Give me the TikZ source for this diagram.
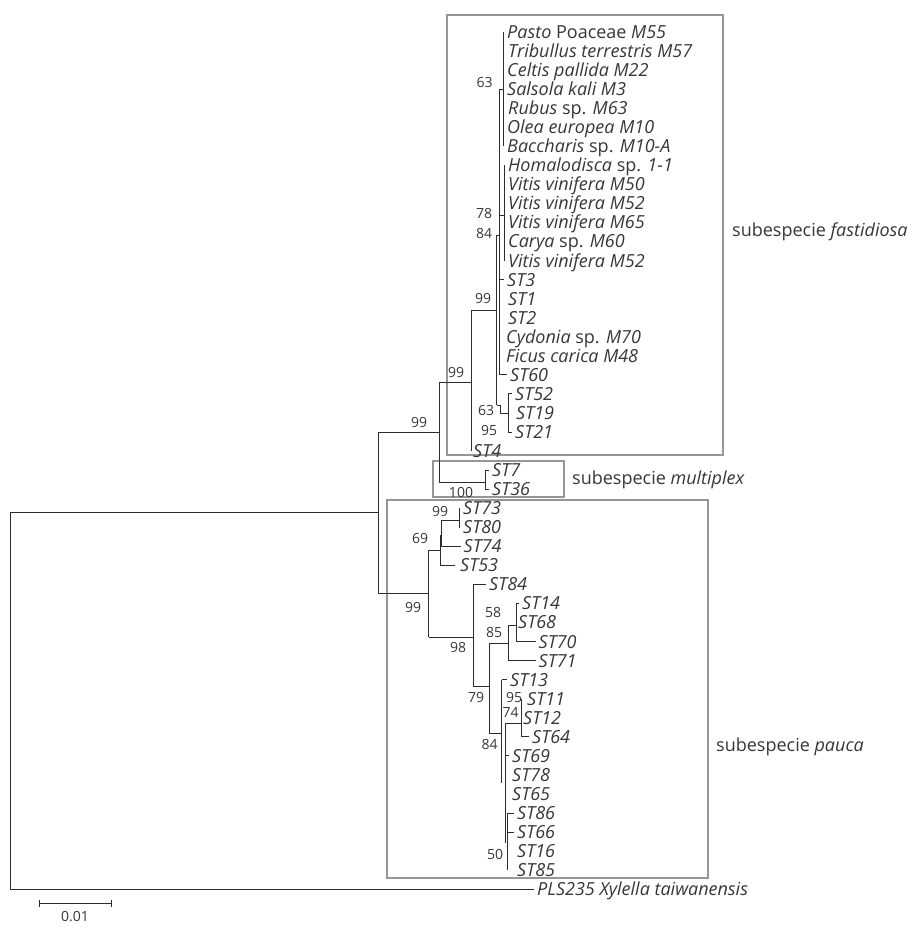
\documentclass[tikz,border=0pt]{standalone}
\usepackage{fontspec}
\setmainfont{Open Sans}
\definecolor{txt}{RGB}{55,55,55}
\definecolor{ln}{RGB}{45,45,45}
\definecolor{bx}{RGB}{150,150,150}
\newcommand{\up}[1]{{\upshape #1}}
\tikzset{
  br/.style={draw=ln, line width=1pt},
  leaf/.style={anchor=west, inner xsep=3pt, inner ysep=0pt, text height=15.3pt, text depth=2.5pt,
    font=\fontsize{18}{18}\selectfont\itshape, text=txt},
  bs/.style={font=\fontsize{14}{14}\selectfont, text=txt, inner sep=0pt},
  clade/.style={draw=bx, line width=1.5pt},
  sub/.style={anchor=base west, inner sep=0pt, font=\fontsize{18}{18}\selectfont, text=txt}
}
\begin{document}
\begin{tikzpicture}[x=1pt,y=-1pt]
\useasboundingbox (0,0) rectangle (919,931);

% clade boxes
\draw[clade] (447,15) rectangle (723,455);
\draw[clade] (433,461) rectangle (564,497);
\draw[clade] (387,500) rectangle (708,878);

% ---------- leaves: fastidiosa ----------
\node[leaf] (L1) at (504,32.00) {Pasto \up{Poaceae} M55};
\node[leaf] (L2) at (505,51.05) {Tribullus terrestris M57};
\node[leaf] (L3) at (504,70.10) {Celtis pallida M22};
\node[leaf] (L4) at (504,89.15) {Salsola kali M3};
\node[leaf] (L5) at (505,108.20) {Rubus \up{sp.} M63};
\node[leaf] (L6) at (504,127.25) {Olea europea M10};
\node[leaf] (L7) at (504,146.30) {Baccharis \up{sp.} M10-A};
\node[leaf] (L8) at (505,165.35) {Homalodisca \up{sp.} 1-1};
\node[leaf] (L9) at (505,184.40) {Vitis vinifera M50};
\node[leaf] (L10) at (505,203.45) {Vitis vinifera M52};
\node[leaf] (L11) at (505,222.50) {Vitis vinifera M65};
\node[leaf] (L12) at (505,241.55) {Carya \up{sp.} M60};
\node[leaf] (L13) at (505,260.60) {Vitis vinifera M52};
\node[leaf] (ST3) at (504,279.65) {ST3};
\node[leaf] (ST1) at (505,298.70) {ST1};
\node[leaf] (ST2) at (505,317.75) {ST2};
\node[leaf] (L17) at (503,336.80) {Cydonia \up{sp.} M70};
\node[leaf] (L18) at (503,355.85) {Ficus carica M48};
\node[leaf] (ST60) at (507,374.90) {ST60};
\node[leaf] (ST52) at (512,393.95) {ST52};
\node[leaf] (ST19) at (513,413.00) {ST19};
\node[leaf] (ST21) at (512,432.05) {ST21};
\node[leaf] (ST4) at (470,451.10) {ST4};
% multiplex
\node[leaf] (ST7) at (489,470.15) {ST7};
\node[leaf] (ST36) at (489,489.20) {ST36};
% pauca
\node[leaf] (ST73) at (460,508.25) {ST73};
\node[leaf] (ST80) at (460,527.30) {ST80};
\node[leaf] (ST74) at (460.5,546.35) {ST74};
\node[leaf] (ST53) at (457,565.40) {ST53};
\node[leaf] (ST84) at (486,584.45) {ST84};
\node[leaf] (ST14) at (519,603.50) {ST14};
\node[leaf] (ST68) at (515,622.55) {ST68};
\node[leaf] (ST70) at (535.5,641.60) {ST70};
\node[leaf] (ST71) at (535.5,660.65) {ST71};
\node[leaf] (ST13) at (507,679.70) {ST13};
\node[leaf] (ST11) at (524,698.75) {ST11};
\node[leaf] (ST12) at (520,717.80) {ST12};
\node[leaf] (ST64) at (529,736.85) {ST64};
\node[leaf] (ST69) at (509,755.90) {ST69};
\node[leaf] (ST78) at (509,774.95) {ST78};
\node[leaf] (ST65) at (509,794.00) {ST65};
\node[leaf] (ST86) at (514,813.05) {ST86};
\node[leaf] (ST66) at (514,832.10) {ST66};
\node[leaf] (ST16) at (514,851.15) {ST16};
\node[leaf] (ST85) at (514,870.20) {ST85};
% outgroup
\node[leaf] (OUT) at (534,889.25) {PLS235 Xylella taiwanensis};

% ---------- internal node coordinates ----------
\coordinate (R) at (10,512);
\coordinate (Rb) at (10,889.25);
\coordinate (IN) at (378,512);
\coordinate (INt) at (378,432);
\coordinate (INb) at (378,593);
\coordinate (FM) at (439,432);
\coordinate (FMb) at (439,482);
\coordinate (FMt) at (439,382);
\coordinate (FA) at (471.5,382);
\coordinate (FAt) at (471.5,310);
\coordinate (FAb) at (471.5,451.10);
\coordinate (F99) at (496.5,310);
\coordinate (F99t) at (496.5,235);
\coordinate (F99b) at (496.5,405);
\coordinate (FX) at (499,235);
\coordinate (FXt) at (499,89.15);
\coordinate (FXb) at (499,374.90);
\coordinate (G63) at (503,89.15);
\coordinate (G63t) at (503,32.00);
\coordinate (G63b) at (503,146.30);
\coordinate (G78s) at (499,215);
\coordinate (G78) at (504,215);
\coordinate (G78t) at (504,165.35);
\coordinate (G78b) at (504,260.60);
\coordinate (G95a) at (500,405);
\coordinate (G95b) at (500,413);
\coordinate (G95) at (508,413);
\coordinate (G95t) at (508,393.95);
\coordinate (G95u) at (508,432.05);
\coordinate (MU) at (485,482);
\coordinate (MUt) at (485,470.15);
\coordinate (MUb) at (485,489.20);
% pauca
\coordinate (PA) at (428.5,593);
\coordinate (PAt) at (428.5,550);
\coordinate (PAb) at (428.5,637);
\coordinate (P69) at (440,550);
\coordinate (P69t) at (440,535);
\coordinate (P69b) at (440,565.40);
\coordinate (P99b) at (441.5,546.35);
\coordinate (P99t) at (441.5,520);
\coordinate (P73) at (459,520);
\coordinate (P73t) at (459,508.25);
\coordinate (P73b) at (459,527.30);
\coordinate (P98) at (473.3,637);
\coordinate (P98t) at (473.3,584.45);
\coordinate (P98b) at (473.3,686);
\coordinate (P79) at (489.3,686);
\coordinate (P79t) at (489.3,643);
\coordinate (P79b) at (489.3,733);
\coordinate (P85) at (508.3,643);
\coordinate (P85t) at (508.3,625);
\coordinate (P85b) at (508.3,660.65);
\coordinate (P58) at (516,625);
\coordinate (P58t) at (516,603.50);
\coordinate (P58b) at (516,641.60);
\coordinate (P84) at (501.7,733);
\coordinate (P84t) at (501.7,679.70);
\coordinate (P84b) at (501.7,783);
\coordinate (P74) at (505,723);
\coordinate (P74b) at (505,843);
\coordinate (P95) at (521.7,723);
\coordinate (P95t) at (521.7,698.75);
\coordinate (P95b) at (521.7,736.85);
\coordinate (P50t) at (507.7,813.05);
\coordinate (P50b) at (507.7,870.20);
\coordinate (P50m) at (507.7,832.10);
\coordinate (P69s) at (505,755.90);

% ---------- branches ----------
\draw[br] (R) -- (IN);
\draw[br] (R) -- (Rb) -- (OUT.west);
\draw[br] (INt) -- (INb);
\draw[br] (INt) -- (FM);
\draw[br] (FMt) -- (FMb);
\draw[br] (FMt) -- (FA);
\draw[br] (FAt) -- (FAb);
\draw[br] (FAt) -- (F99);
\draw[br] (F99t) -- (F99b);
\draw[br] (F99t) -- (FX);
\draw[br] (FXt) -- (FXb);
\draw[br] (FXt) -- (G63);
\draw[br] (G63t) -- (G63b);
\draw[br] (G78s) -- (G78);
\draw[br] (G78t) -- (G78b);
\draw[br] (499,279.65) -- (ST3.west);
\draw[br] (FXb) -- (ST60.west);
\draw[br] (F99b) -- (G95a) -- (G95b) -- (G95);
\draw[br] (G95t) -- (G95u);
\draw[br] (G95t) -- (ST52.west);
\draw[br] (G95u) -- (ST21.west);
\draw[br] (FMb) -- (MU);
\draw[br] (MUt) -- (MUb);
\draw[br] (MUt) -- (ST7.west);
\draw[br] (MUb) -- (ST36.west);
% pauca
\draw[br] (INb) -- (PA);
\draw[br] (PAt) -- (PAb);
\draw[br] (PAt) -- (P69);
\draw[br] (P69t) -- (P69b);
\draw[br] (P69b) -- (455,565.40);
\draw[br] (P99t) -- (P99b) -- (ST74.west);
\draw[br] (P99t) -- (P73);
\draw[br] (P73t) -- (P73b);
\draw[br] (P73t) -- (ST73.west);
\draw[br] (P73b) -- (ST80.west);
\draw[br] (PAb) -- (P98);
\draw[br] (P98t) -- (P98b);
\draw[br] (P98t) -- (ST84.west);
\draw[br] (P98b) -- (P79);
\draw[br] (P79t) -- (P79b);
\draw[br] (P79t) -- (P85);
\draw[br] (P85t) -- (P85b) -- (ST71.west);
\draw[br] (P85t) -- (P58);
\draw[br] (P58t) -- (P58b) -- (ST70.west);
\draw[br] (P58t) -- (ST14.west);
\draw[br] (P79b) -- (P84);
\draw[br] (P84t) -- (P84b);
\draw[br] (P84t) -- (ST13.west);
\draw[br] (P74) -- (P74b);
\draw[br] (P74) -- (P95);
\draw[br] (P95t) -- (P95b) -- (ST64.west);
\draw[br] (P69s) -- (ST69.west);
\draw[br] (P50t) -- (P50b);
\draw[br] (P50t) -- (ST86.west);
\draw[br] (P50m) -- (ST66.west);

% ---------- bootstrap values ----------
\node[bs] (b1) at (484.5,82) {63};
\node[bs] (b2) at (484,213) {78};
\node[bs] (b3) at (484,233) {84};
\node[bs] (b4) at (483,298) {99};
\node[bs] (b5) at (456,372) {99};
\node[bs] (b6) at (419,422) {99};
\node[bs] (b7) at (486,410) {63};
\node[bs] (b8) at (489,430) {95};
\node[bs] (b9) at (461,492) {100};
\node[bs] (b10) at (440,511) {99};
\node[bs] (b11) at (420,538) {69};
\node[bs] (b12) at (413,607) {99};
\node[bs] (b13) at (458,647) {98};
\node[bs] (b14) at (493,612) {58};
\node[bs] (b15) at (494,632) {85};
\node[bs] (b16) at (476,697) {79};
\node[bs] (b17) at (514,697) {95};
\node[bs] (b18) at (510.5,712) {74};
\node[bs] (b19) at (489.5,744) {84};
\node[bs] (b20) at (495,854) {50};

% ---------- clade labels ----------
\node[sub] (sf) at (732,236) {subespecie \textit{fastidiosa}};
\node[sub] (sm) at (572,484) {subespecie \textit{multiplex}};
\node[sub] (sp) at (716,751) {subespecie \textit{pauca}};

% ---------- scale bar ----------
\coordinate (sb1) at (39,903);
\coordinate (sb2) at (111,903);
\draw[br, line width=0.9pt] (sb1) -- (sb2);
\draw[br, line width=0.9pt] (39,899.5) -- (39,906.5);
\draw[br, line width=0.9pt] (111,899.5) -- (111,906.5);
\node[bs] (sbl) at (75,917) {0.01};
\end{tikzpicture}
\end{document}
